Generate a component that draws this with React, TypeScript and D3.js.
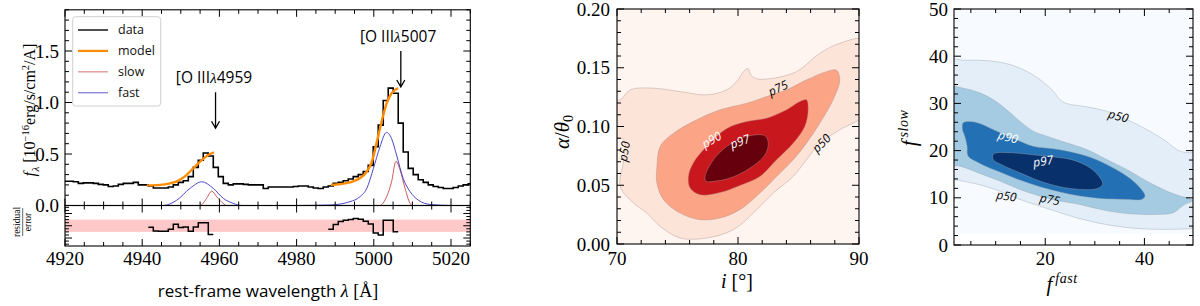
import React from 'react';
import * as d3 from 'd3';

// ---- spectrum (binned, constant bin width) ----
const binStart = 4919.565;
const binWidth = 1.295;
const fluxData = [
  0.235, 0.235, 0.23, 0.215, 0.22, 0.22, 0.215, 0.205, 0.2, 0.185,
  0.19, 0.205, 0.215, 0.215, 0.225, 0.2, 0.2, 0.19, 0.17, 0.17,
  0.17, 0.18, 0.2, 0.225, 0.24, 0.28, 0.37, 0.44, 0.51, 0.48,
  0.37, 0.28, 0.215, 0.2, 0.21, 0.21, 0.205, 0.2, 0.2, 0.2,
  0.165, 0.18, 0.18, 0.18, 0.18, 0.18, 0.185, 0.19, 0.19, 0.18,
  0.17, 0.165, 0.18, 0.19, 0.215, 0.225, 0.24, 0.257, 0.28, 0.3,
  0.33, 0.39, 0.57, 0.78, 1.02, 1.14, 1.09, 0.8, 0.52, 0.36,
  0.3, 0.25, 0.225, 0.2, 0.185, 0.175, 0.165, 0.165, 0.175, 0.19,
  0.2, 0.21,
];

// residual / error over the two fit windows (bin index of first value)
const residStart4959 = 17;
const resid4959 = [-0.24, -0.85, -0.89, -0.89, -0.56, 0.24, -0.3, -0.2, -0.89, -0.2, 0.5, 0.5, -1.42];
const residStart5007 = 53;
const resid5007 = [-0.56, 0.19, 0.7, 0.89, 1.0, 1.2, 1.05, 0.73, 0.3, -1.2, -1.5, 0.89, 0.89, -0.97];

// model components [wavelength, flux]
const model4959: [number, number][] = [
  [4941.2, 0.195], [4944.6, 0.2], [4947.0, 0.213], [4949.0, 0.235], [4951.0, 0.28],
  [4953.2, 0.36], [4955.4, 0.44], [4957.1, 0.49], [4958.6, 0.515],
];
const model5007: [number, number][] = [
  [4988.9, 0.2], [4993.8, 0.225], [4996.4, 0.264], [4998.2, 0.33], [4999.5, 0.425],
  [5000.8, 0.62], [5002.0, 0.81], [5003.3, 0.99], [5004.6, 1.09], [5006.3, 1.14],
];
const fast4959: [number, number][] = [
  [4940, 0], [4945.4, 0.0], [4948.9, 0.05], [4952.4, 0.167], [4955.4, 0.23],
  [4958.4, 0.167], [4961.0, 0.07], [4963.6, 0.02], [4965.8, 0.0], [4970, 0],
];
const slow4959: [number, number][] = [
  [4950, 0], [4955.0, 0], [4956.7, 0.07], [4958.0, 0.14], [4959.3, 0.085],
  [4961.0, 0.02], [4961.9, 0], [4966, 0],
];
const fast5007: [number, number][] = [
  [4980, 0], [4988.65, 0.005], [4993.8, 0.037], [4996.4, 0.085], [4998.2, 0.167],
  [4999.9, 0.36], [5001.6, 0.57], [5003.3, 0.71], [5004.6, 0.65], [5005.9, 0.49],
  [5007.6, 0.264], [5009.4, 0.134], [5011.5, 0.053], [5014.6, 0.01], [5020, 0],
];
const slow5007: [number, number][] = [
  [4995, 0], [5001.6, 0.0], [5002.9, 0.053], [5004.6, 0.23], [5005.75, 0.43],
  [5006.8, 0.345], [5008.1, 0.167], [5009.4, 0.02], [5010.0, 0], [5015, 0],
];

const legendItems = [
  { name: 'data', color: '#222', w: 1.6 },
  { name: 'model', color: '#ff8c00', w: 2.2 },
  { name: 'slow', color: '#e29a9a', w: 1.4 },
  { name: 'fast', color: '#8a8ad8', w: 1.4 },
];

// ---- inclination / opening angle posterior (contour outlines) ----
const redFills = ['#fde4d8', '#fca486', '#c9181d', '#67000d'];
const redP50: [number, number][] = [
  [70.27, 0.1227], [71.1, 0.1312], [73.02, 0.1326], [75.22, 0.1297], [77.42, 0.1269],
  [79.07, 0.1312], [79.9, 0.1385], [80.45, 0.1465], [80.8, 0.1495], [81.1, 0.1435],
  [81.6, 0.1405], [82.91, 0.1411], [84.84, 0.1467], [86.76, 0.1623], [88.41, 0.1708],
  [90.6, 0.1737], [90.6, 0.112], [88.41, 0.0972], [86.76, 0.0858], [85.66, 0.0717],
  [84.56, 0.0575], [82.91, 0.0433], [81.26, 0.0263], [79.62, 0.0122], [77.42, 0.0051],
  [75.22, 0.0051], [73.57, 0.015], [72.47, 0.0263], [71.37, 0.0348], [70.27, 0.049],
  [70.55, 0.0717], [70.55, 0.0887], [69.4, 0.093], [69.4, 0.122],
];
const redP75: [number, number][] = [
  [73.3, 0.066], [73.57, 0.083], [74.67, 0.0943], [76.59, 0.1057], [78.52, 0.1142],
  [80.71, 0.1198], [82.36, 0.1255], [84.01, 0.1312], [85.66, 0.1397], [87.31, 0.1467],
  [88.13, 0.148], [88.41, 0.1397], [87.86, 0.1227], [86.76, 0.1028], [85.66, 0.0858],
  [84.56, 0.0717], [83.19, 0.0575], [81.81, 0.0433], [80.16, 0.0292], [78.52, 0.0221],
  [76.87, 0.0207], [75.22, 0.0263], [73.85, 0.0377], [73.3, 0.0518],
];
const redP90: [number, number][] = [
  [75.9, 0.0575], [76.3, 0.069], [77.4, 0.083], [79.07, 0.0983], [80.71, 0.1042],
  [82.36, 0.1071], [84.01, 0.1142], [85.11, 0.1212], [85.66, 0.1227], [85.8, 0.1142],
  [85.52, 0.1], [84.56, 0.0858], [83.19, 0.0717], [81.81, 0.0575], [80.16, 0.0498],
  [78.52, 0.0438], [76.87, 0.0419], [76.04, 0.0476],
];
const redP97: [number, number][] = [
  [77.28, 0.0575], [77.97, 0.0717], [79.07, 0.083], [80.71, 0.0915], [82.23, 0.0921],
  [82.5, 0.0858], [82.23, 0.0759], [80.99, 0.0646], [79.34, 0.0561], [77.97, 0.0533],
  [77.36, 0.0533],
];
const redLabels = [
  { t: 'p75', x: 83.32, y: 0.1326, r: -25, c: '#000' },
  { t: 'p90', x: 77.83, y: 0.0887, r: -30, c: '#fff' },
  { t: 'p97', x: 80.16, y: 0.0873, r: -20, c: '#fff' },
  { t: 'p50', x: 86.9, y: 0.0858, r: -45, c: '#000' },
  { t: 'p50', x: 70.6, y: 0.0788, r: -80, c: '#000' },
];

// ---- slow / fast flux posterior ----
const blueFills = ['#e4eef8', '#a4cbe2', '#2370b4', '#08306b'];
const blueFloor = 2.26;
const blueP50: [number, number][] = [
  [-0.5, 38.8], [4.11, 39.14], [8.15, 39.07], [12.19, 38.43], [15.56, 37.16],
  [18.92, 35.05], [21.62, 32.58], [22.96, 30.82], [24.31, 29.97], [28.35, 29.27],
  [32.39, 28.35], [36.43, 26.59], [40.47, 24.47], [43.84, 22.36], [46.53, 20.24],
  [47.88, 19.68], [49.76, 19.53], [51, 19.5], [51, 3.45], [49.76, 3.46],
  [44.51, 3.31], [39.12, 3.46], [35.08, 3.88], [31.04, 4.58], [27.0, 5.57],
  [22.96, 6.84], [18.92, 8.25], [14.88, 9.66], [10.84, 11.42], [6.8, 12.76],
  [1.55, 13.89], [-0.5, 14.2],
];
const blueP75: [number, number][] = [
  [-0.5, 33.3], [4.11, 33.07], [6.8, 32.23], [9.49, 30.82], [12.19, 28.7],
  [14.88, 26.23], [17.58, 24.12], [20.27, 23.06], [24.31, 21.65], [28.35, 20.24],
  [32.39, 18.12], [36.43, 16.01], [40.47, 13.54], [44.51, 11.42], [47.21, 10.37],
  [49.23, 9.8], [49.76, 9.31], [48.55, 8.82], [47.21, 7.9], [45.86, 6.84],
  [43.16, 6.49], [39.12, 6.49], [35.08, 6.84], [31.04, 7.55], [27.0, 8.6],
  [22.96, 9.31], [18.92, 10.37], [14.88, 11.78], [10.84, 13.54], [6.8, 15.16],
  [2.76, 16.71], [-0.5, 17.2],
];
const blueP90: [number, number][] = [
  [3.43, 25.88], [4.78, 26.16], [6.8, 25.74], [9.49, 24.47], [12.19, 23.2],
  [14.88, 22.0], [17.58, 20.94], [21.62, 20.38], [24.31, 19.89], [28.35, 18.83],
  [32.39, 17.07], [36.43, 14.6], [39.12, 12.13], [40.13, 10.37], [39.46, 9.66],
  [36.43, 9.66], [31.04, 9.87], [27.0, 10.37], [22.96, 11.21], [18.92, 12.34],
  [14.88, 13.75], [10.84, 15.44], [6.8, 17.28], [4.44, 18.83], [4.24, 20.94],
  [3.77, 23.06], [3.3, 24.47],
];
const blueP97: [number, number][] = [
  [9.49, 19.18], [10.17, 19.53], [13.53, 19.53], [17.58, 19.11], [21.62, 18.69],
  [25.66, 17.98], [29.02, 16.36], [31.04, 14.25], [31.58, 12.83], [30.37, 11.92],
  [27.0, 11.78], [22.96, 12.34], [18.92, 13.54], [14.88, 15.3], [11.51, 16.85],
  [9.49, 18.12],
];
const blueLabels = [
  { t: 'p90', x: 12.5, y: 22.85, r: 15, c: '#fff' },
  { t: 'p97', x: 19.6, y: 17.77, r: -8, c: '#fff' },
  { t: 'p50', x: 12.19, y: 10.37, r: 8, c: '#000' },
  { t: 'p75', x: 20.94, y: 9.66, r: 10, c: '#000' },
  { t: 'p50', x: 34.75, y: 27.3, r: 15, c: '#000' },
];

const SERIF = "'Liberation Serif', 'DejaVu Serif', serif";
const SANS = "'Open Sans', 'DejaVu Sans', sans-serif";

type Lin = d3.ScaleLinear<number, number>;

function stepValues(lo: number, hi: number, step: number) {
  const out: number[] = [];
  const s = Math.ceil(lo / step - 1e-6);
  for (let i = s; i * step <= hi + 1e-6; i++) out.push(+(i * step).toFixed(6));
  return out;
}

function Frame({ x, y, xMaj, xMin, yMaj, yMin }: { x: Lin; y: Lin; xMaj: number; xMin: number; yMaj: number; yMin: number }) {
  const [L, R] = x.range();
  const [B, T] = y.range();
  const segs: string[] = [];
  const [xd0, xd1] = x.domain();
  const [yd0, yd1] = y.domain();
  stepValues(xd0, xd1, xMin).forEach((v) => {
    const maj = Math.abs(v / xMaj - Math.round(v / xMaj)) < 1e-6;
    const len = maj ? 7 : 4;
    const px = x(v);
    segs.push(`M${px},${B}v${-len}M${px},${T}v${len}`);
  });
  stepValues(yd0, yd1, yMin).forEach((v) => {
    const maj = Math.abs(v / yMaj - Math.round(v / yMaj)) < 1e-6;
    const len = maj ? 7 : 4;
    const py = y(v);
    segs.push(`M${L},${py}h${len}M${R},${py}h${-len}`);
  });
  return (
    <g>
      <path d={segs.join('')} stroke="#000" strokeWidth={1} fill="none" />
      <rect x={L} y={T} width={R - L} height={B - T} fill="none" stroke="#000" strokeWidth={1.1} />
    </g>
  );
}

function Arrow({ x, y0, y1 }: { x: number; y0: number; y1: number }) {
  return (
    <path
      d={`M${x},${y0}V${y1}M${x - 4},${y1 - 7}L${x},${y1}L${x + 4},${y1 - 7}`}
      stroke="#000"
      strokeWidth={1.3}
      fill="none"
    />
  );
}

export default function App() {
  // ---------- panel 1 ----------
  const x1 = d3.scaleLinear().domain([4920, 5025]).range([65, 470.3]);
  const y1 = d3.scaleLinear().domain([0, 1.9]).range([205.5, 9.8]);
  const yr = d3.scaleLinear().domain([-3.3, 3.3]).range([246, 205.5]);

  const specPts: [number, number][] = fluxData.map((f, k) => [binStart + k * binWidth, f]);
  specPts.push([binStart + fluxData.length * binWidth, fluxData[fluxData.length - 1]]);
  const stepLine = d3.line<[number, number]>().x((d) => x1(d[0])).y((d) => y1(d[1])).curve(d3.curveStepAfter);
  const smooth = d3.line<[number, number]>().x((d) => x1(d[0])).y((d) => y1(d[1])).curve(d3.curveMonotoneX);

  const residPts = (start: number, vals: number[]) => {
    const pts: [number, number][] = vals.map((v, i) => [binStart + (start + i) * binWidth, v]);
    pts.push([binStart + (start + vals.length) * binWidth, vals[vals.length - 1]]);
    return pts;
  };
  const residLine = d3.line<[number, number]>().x((d) => x1(d[0])).y((d) => yr(d[1])).curve(d3.curveStepAfter);

  // ---------- panel 2 ----------
  const x2 = d3.scaleLinear().domain([70, 90]).range([617, 859]);
  const y2 = d3.scaleLinear().domain([0, 0.2]).range([244, 9]);
  const poly2 = d3.line<[number, number]>().x((d) => x2(d[0])).y((d) => y2(d[1])).curve(d3.curveCatmullRomClosed.alpha(0.5));
  const redPolys = [redP50, redP75, redP90, redP97];

  // ---------- panel 3 ----------
  const x3 = d3.scaleLinear().domain([1.6, 49.8]).range([954, 1193]);
  const y3 = d3.scaleLinear().domain([0, 50]).range([245, 9]);
  const poly3 = d3.line<[number, number]>().x((d) => x3(d[0])).y((d) => y3(d[1])).curve(d3.curveCatmullRomClosed.alpha(0.5));
  const bluePolys = [blueP50, blueP75, blueP90, blueP97];

  const tickFont = { fontFamily: SERIF, fontSize: 19, fill: '#000' } as const;

  return (
    <svg width={1200} height={306} style={{ position: 'absolute', left: 0, top: 0, background: '#fff' }}>
      <defs>
        <clipPath id="c1"><rect x={65} y={9.8} width={405.3} height={195.7} /></clipPath>
        <clipPath id="c2"><rect x={617} y={9} width={242} height={235} /></clipPath>
        <clipPath id="c3"><rect x={954} y={9} width={239} height={236} /></clipPath>
      </defs>

      {/* ===== panel 1: spectrum ===== */}
      <g clipPath="url(#c1)">
        <path d={stepLine(specPts) || ''} fill="none" stroke="#000" strokeWidth={1.6} />
        <path d={smooth(model4959) || ''} fill="none" stroke="#ff8c00" strokeWidth={2.4} />
        <path d={smooth(model5007) || ''} fill="none" stroke="#ff8c00" strokeWidth={2.4} />
        <path d={smooth(slow4959) || ''} fill="none" stroke="#c94848" strokeWidth={0.9} />
        <path d={smooth(slow5007) || ''} fill="none" stroke="#c94848" strokeWidth={0.9} />
        <path d={smooth(fast4959) || ''} fill="none" stroke="#3535c4" strokeWidth={0.9} />
        <path d={smooth(fast5007) || ''} fill="none" stroke="#3535c4" strokeWidth={0.9} />
      </g>
      <Frame x={x1} y={y1} xMaj={20} xMin={5} yMaj={0.5} yMin={0.1} />
      {[0, 0.5, 1.0, 1.5].map((v) => (
        <text key={v} x={59} y={y1(v)} dy="0.35em" textAnchor="end" {...tickFont}>{v.toFixed(1)}</text>
      ))}

      {/* legend */}
      <rect x={72.7} y={16.7} width={88} height={89.3} rx={3} fill="#fff" fillOpacity={0.85} stroke="#d0d0d0" strokeWidth={1} />
      {legendItems.map((it, i) => {
        const yy = 30 + i * 20.9;
        return (
          <g key={it.name}>
            <line x1={78} x2={108} y1={yy} y2={yy} stroke={it.color} strokeWidth={it.w} />
            <text x={118} y={yy} dy="0.35em" fontFamily={SANS} fontSize={12.5} fill="#111">{it.name}</text>
          </g>
        );
      })}

      {/* line annotations */}
      <text x={x1(4958.6)} y={y1(1.186)} textAnchor="middle" fontFamily={SANS} fontSize={15.5} fill="#000">
        [O III<tspan fontFamily={SERIF} fontStyle="italic">λ</tspan>4959
      </text>
      <Arrow x={x1(4959)} y0={y1(1.1)} y1={y1(0.75)} />
      <text x={x1(5006.3)} y={y1(1.59)} textAnchor="middle" fontFamily={SANS} fontSize={15.5} fill="#000">
        [O III<tspan fontFamily={SERIF} fontStyle="italic">λ</tspan>5007
      </text>
      <Arrow x={x1(5007)} y0={y1(1.5)} y1={y1(1.15)} />

      {/* y label */}
      <text transform="translate(35,110) rotate(-90)" textAnchor="middle" fontFamily={SERIF} fontSize={16} fill="#000">
        <tspan fontStyle="italic">f</tspan>
        <tspan dy={3.5} dx={0.5} fontSize={11} fontStyle="italic">λ</tspan>
        <tspan dy={-3.5}> [10</tspan>
        <tspan dy={-6} fontSize={10.5}>−16</tspan>
        <tspan dy={6}>erg/s/cm</tspan>
        <tspan dy={-6} fontSize={10.5}>2</tspan>
        <tspan dy={6}>/A]</tspan>
      </text>

      {/* residual panel */}
      <rect x={65} y={yr(1)} width={405.3} height={yr(-1) - yr(1)} fill="#ffc8c8" />
      <path d={residLine(residPts(residStart4959, resid4959)) || ''} fill="none" stroke="#000" strokeWidth={1.5} />
      <path d={residLine(residPts(residStart5007, resid5007)) || ''} fill="none" stroke="#000" strokeWidth={1.5} />
      <Frame x={x1} y={yr} xMaj={20} xMin={5} yMaj={2} yMin={0.5} />
      {[4920, 4940, 4960, 4980, 5000, 5020].map((v) => (
        <text key={v} x={x1(v)} y={265} textAnchor="middle" {...tickFont}>{v}</text>
      ))}
      <g transform="translate(0,222) rotate(-90)" fontFamily={SERIF} fontSize={9.5} fill="#000" textAnchor="middle">
        <text x={0} y={19.5}>residual</text>
        <line x1={-14} x2={14} y1={22.7} y2={22.7} stroke="#000" strokeWidth={0.6} />
        <text x={0} y={30.5}>error</text>
      </g>
      <text x={268} y={297} textAnchor="middle" fontFamily={SANS} fontSize={17} fill="#000">
        rest-frame wavelength <tspan fontFamily={SERIF} fontStyle="italic" fontSize={18}>λ</tspan>
        <tspan fontFamily={SERIF} fontSize={18}> [Å]</tspan>
      </text>

      {/* ===== panel 2 ===== */}
      <g clipPath="url(#c2)">
        <rect x={617} y={9} width={242} height={235} fill="#fff5f0" />
        {redPolys.map((p, i) => (
          <path key={i} d={poly2(p) || ''} fill={redFills[i]} stroke="#a89090" strokeOpacity={0.7} strokeWidth={0.6} />
        ))}
        {redLabels.map((l, i) => (
          <text key={i} transform={`translate(${x2(l.x)},${y2(l.y)}) rotate(${l.r})`} textAnchor="middle" dy="0.35em"
            fontFamily={SANS} fontStyle="italic" fontSize={12} fill={l.c}>{l.t}</text>
        ))}
      </g>
      <Frame x={x2} y={y2} xMaj={10} xMin={2} yMaj={0.05} yMin={0.01} />
      {[0, 0.05, 0.1, 0.15, 0.2].map((v) => (
        <text key={v} x={610} y={y2(v)} dy="0.35em" textAnchor="end" {...tickFont}>{v.toFixed(2)}</text>
      ))}
      {[70, 80, 90].map((v) => (
        <text key={v} x={x2(v)} y={265} textAnchor="middle" {...tickFont}>{v}</text>
      ))}
      <text x={737} y={288} textAnchor="middle" fontFamily={SERIF} fontSize={20} fill="#000">
        <tspan fontStyle="italic">i</tspan> [°]
      </text>
      <text transform="translate(569,132) rotate(-90)" textAnchor="middle" fontFamily={SERIF} fontSize={21} fill="#000">
        <tspan fontStyle="italic">α</tspan>/<tspan fontStyle="italic">θ</tspan>
        <tspan dy={4} fontSize={14}>0</tspan>
      </text>

      {/* ===== panel 3 ===== */}
      <g clipPath="url(#c3)">
        <rect x={954} y={9} width={239} height={y3(blueFloor) - 9} fill="#f7fbff" />
        {bluePolys.map((p, i) => (
          <path key={i} d={poly3(p) || ''} fill={blueFills[i]} stroke="#9aa4ae" strokeOpacity={0.7} strokeWidth={0.6} />
        ))}
        {blueLabels.map((l, i) => (
          <text key={i} transform={`translate(${x3(l.x)},${y3(l.y)}) rotate(${l.r})`} textAnchor="middle" dy="0.35em"
            fontFamily={SANS} fontStyle="italic" fontSize={12} fill={l.c}>{l.t}</text>
        ))}
      </g>
      <Frame x={x3} y={y3} xMaj={20} xMin={5} yMaj={10} yMin={2} />
      {[0, 10, 20, 30, 40, 50].map((v) => (
        <text key={v} x={948} y={y3(v)} dy="0.35em" textAnchor="end" {...tickFont}>{v}</text>
      ))}
      {[20, 40].map((v) => (
        <text key={v} x={x3(v)} y={265} textAnchor="middle" {...tickFont}>{v}</text>
      ))}
      <text x={1062} y={291} textAnchor="middle" fontFamily={SERIF} fontSize={21} fill="#000">
        <tspan fontStyle="italic">f</tspan>
        <tspan dy={-8} dx={3} fontSize={14} fontStyle="italic" letterSpacing={0.5}>fast</tspan>
      </text>
      <text transform="translate(916,128) rotate(-90)" textAnchor="middle" fontFamily={SERIF} fontSize={21} fill="#000">
        <tspan fontStyle="italic">f</tspan>
        <tspan dy={-8} dx={3} fontSize={14} fontStyle="italic" letterSpacing={0.5}>slow</tspan>
      </text>
    </svg>
  );
}
